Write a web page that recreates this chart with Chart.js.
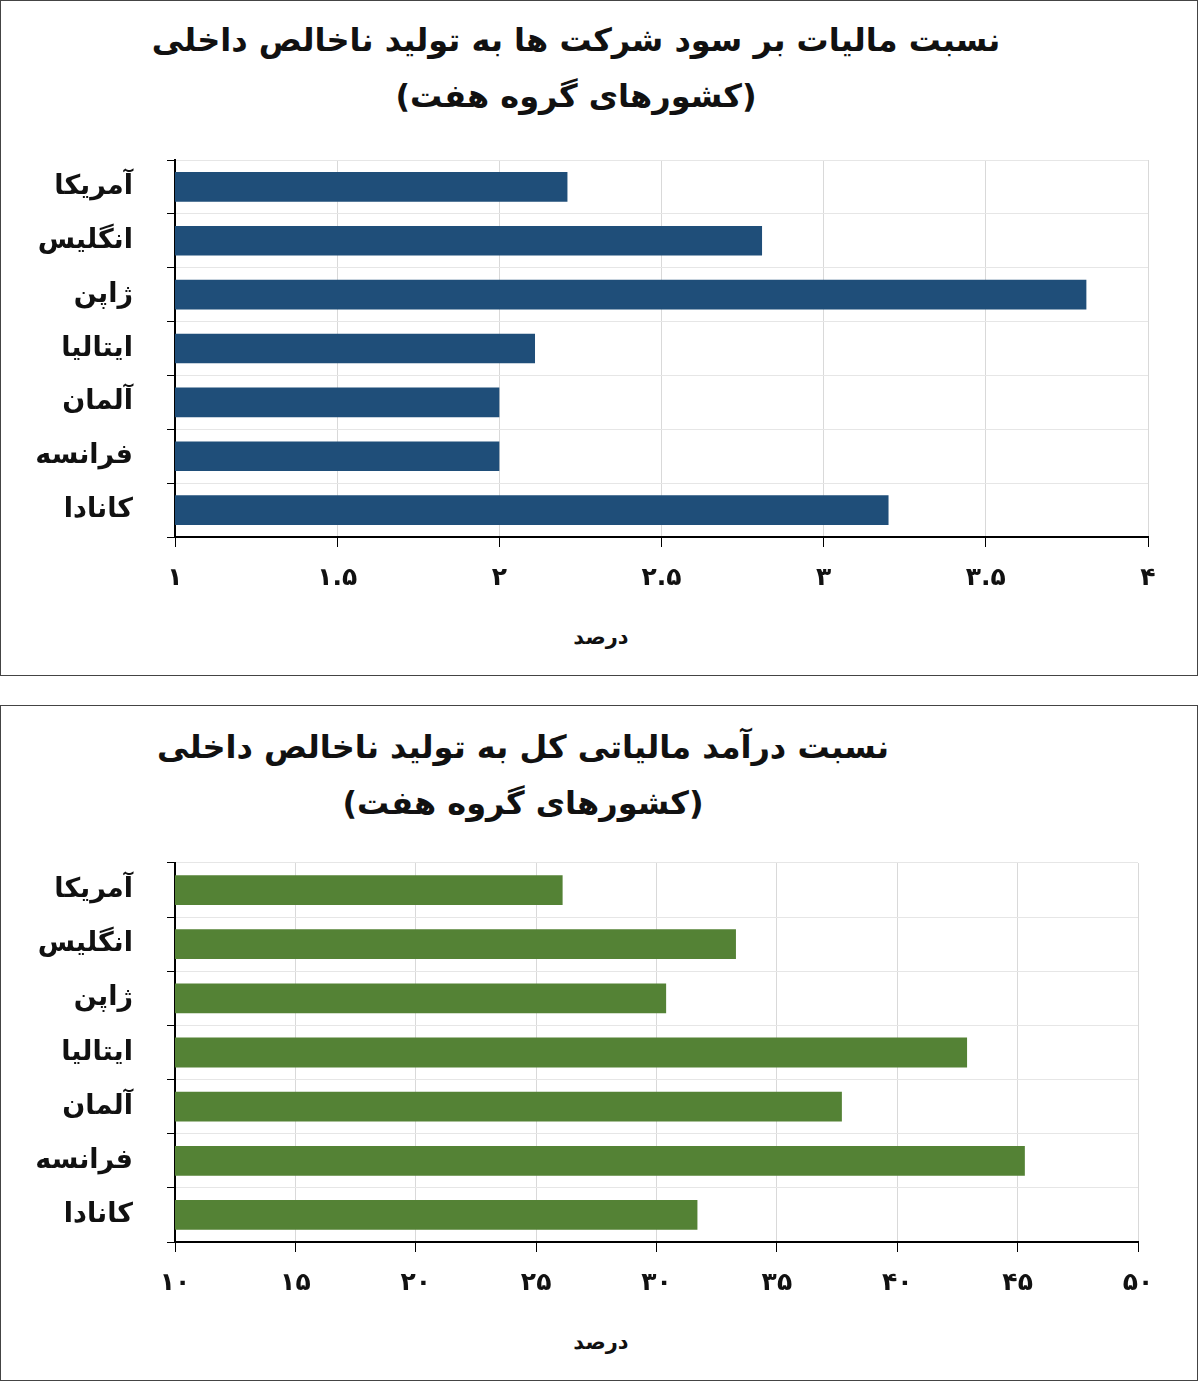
<!DOCTYPE html>
<html><head><meta charset="utf-8">
<script src="https://cdn.jsdelivr.net/npm/chart.js@4/dist/chart.umd.min.js"></script>
<style>
body{margin:0;background:#fff;font-family:"DejaVu Sans",sans-serif}
.panel{position:absolute;left:0;width:1196px;height:674px;border:1px solid #444;background:#fff}
.title{position:absolute;left:0;width:1150px;text-align:center;font-weight:bold;font-size:32px;color:#111;direction:rtl}
.xt{position:absolute;left:500px;width:200px;text-align:center;font-weight:bold;font-size:21px;color:#111;top:624px}
canvas{position:absolute;left:0;top:0}
</style></head><body>
<div class="panel" style="top:0">
  <div class="title" style="top:20px">نسبت مالیات بر سود شرکت ها به تولید ناخالص داخلی</div>
  <div class="title" style="top:76px">(کشورهای گروه هفت)</div>
  <div class="xt">درصد</div>
  <canvas id="c1" width="1196" height="674"></canvas>
</div>
<div class="panel" style="top:705px">
  <div class="title" style="top:22px;width:1044px">نسبت درآمد مالیاتی کل به تولید ناخالص داخلی</div>
  <div class="title" style="top:78px;width:1044px">(کشورهای گروه هفت)</div>
  <div class="xt">درصد</div>
  <canvas id="c2" width="1196" height="674"></canvas>
</div>
<script>
const countries = ['آمریکا', 'انگلیس', 'ژاپن', 'ایتالیا', 'آلمان', 'فرانسه', 'کانادا'];
const corpTax = [2.21, 2.81, 3.81, 2.11, 2.0, 2.0, 3.2];
const totalTax = [26.1, 33.3, 30.4, 42.9, 37.7, 45.3, 31.7];
const ticks1 = ['۱', '۱.۵', '۲', '۲.۵', '۳', '۳.۵', '۴'];
const ticks2 = ['۱۰', '۱۵', '۲۰', '۲۵', '۳۰', '۳۵', '۴۰', '۴۵', '۵۰'];

function makeChart(id, values, color, min, max, step, tickLabels, top, right) {
    new Chart(document.getElementById(id), {
        type: 'bar',
        data: { labels: countries, datasets: [{ data: values, backgroundColor: color, barPercentage: 0.55, categoryPercentage: 1 }] },
        options: {
            indexAxis: 'y', responsive: false, animation: false,
            layout: { padding: { top: top, right: right, left: 0, bottom: 0 } },
            plugins: { legend: { display: false }, tooltip: { enabled: false } },
            scales: {
                x: {
                    min: min, max: max, ticks: { stepSize: step, color: '#111', padding: 16,
                        font: { family: 'DejaVu Sans', size: 25, weight: 'bold' },
                        callback: (v, i) => tickLabels[i] },
                    grid: { color: '#d9d9d9', tickColor: '#000', tickLength: 10 },
                    border: { color: '#000', width: 2 },
                    afterFit: s => { s.height = 138; }
                },
                y: {
                    ticks: { color: '#111', padding: 34, font: { family: 'DejaVu Sans', size: 27, weight: 'bold' } },
                    grid: { color: '#e6e6e6', tickColor: '#000', tickLength: 8 },
                    border: { color: '#000', width: 2 },
                    afterFit: s => { s.width = 174; }
                }
            }
        }
    });
}
makeChart('c1', corpTax, '#1f4e79', 1, 4, 0.5, ticks1, 159, 49);
makeChart('c2', totalTax, '#548235', 10, 50, 5, ticks2, 157, 59);
</script>
</body></html>
